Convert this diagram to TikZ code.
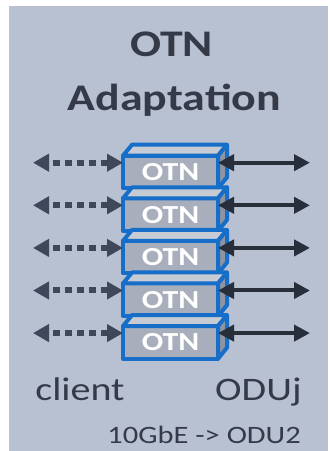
\documentclass[tikz,border=0pt]{standalone}
\usepackage{fontspec}
\setmainfont{Carlito}[FakeStretch=1.22]
\usetikzlibrary{arrows.meta, positioning}

\definecolor{panel}{RGB}{184,193,210}
\definecolor{otnblue}{RGB}{22,110,200}
\definecolor{otnfront}{RGB}{168,174,187}
\definecolor{otntop}{RGB}{198,203,212}
\definecolor{otnside}{RGB}{142,148,160}
\definecolor{inkdark}{RGB}{52,58,72}
\definecolor{clientline}{RGB}{62,72,90}
\definecolor{odujline}{RGB}{40,46,58}

\begin{document}
\begin{tikzpicture}[
  x=0.5pt, y=0.5pt,
  otn/.style={rectangle, draw=otnblue, fill=otnfront, line width=2pt, line join=round,
              minimum width=47.5pt, minimum height=16.3pt, inner sep=0pt, outer sep=0pt,
              text=white, font=\fontsize{13}{15}\selectfont\bfseries},
  face/.style={draw=otnblue, line width=2pt, line join=round},
  clientarr/.style={{Triangle[length=8pt,width=8.5pt]}-{Triangle[length=8pt,width=8.5pt]},
                    line width=3pt, clientline, dash pattern=on 3.4pt off 2.6pt, dash phase=3.4pt},
  odujarr/.style={{Triangle[length=8pt,width=8pt]}-{Triangle[length=8pt,width=8pt]},
                  line width=2pt, odujline},
  title/.style={inkdark, inner sep=0pt, font=\fontsize{18.8}{23}\selectfont\bfseries},
  lbl/.style={inkdark, inner sep=0pt, font=\fontsize{16.4}{20}\selectfont},
]
  \useasboundingbox (0,0) rectangle (329,451);
  \fill[panel] (9,0) rectangle (328,445);

  \node[title, anchor=base] (ttl) at (171.5,394) {OTN};
  \node[title, anchor=base] (adapt) at (174.5,340) {Adaptation};

  % stacked OTN blocks, top to bottom
  \node[otn] (o1) at (170.5,279) {OTN};
  \draw[face, fill=otntop] (o1.north west) -- ++(9,11) -- ++(95,0) -- (o1.north east) -- cycle;
  \draw[face, fill=otnside] (o1.north east) -- ++(9,11) -- ++(0,-32.6) -- (o1.south east) -- cycle;

  \node[otn] (o2) at (170.5,236.4) {OTN};
  \draw[face, fill=otntop] (o2.north west) -- ++(9,11) -- ++(95,0) -- (o2.north east) -- cycle;
  \draw[face, fill=otnside] (o2.north east) -- ++(9,11) -- ++(0,-32.6) -- (o2.south east) -- cycle;

  \node[otn] (o3) at (170.5,193.8) {OTN};
  \draw[face, fill=otntop] (o3.north west) -- ++(9,11) -- ++(95,0) -- (o3.north east) -- cycle;
  \draw[face, fill=otnside] (o3.north east) -- ++(9,11) -- ++(0,-32.6) -- (o3.south east) -- cycle;

  \node[otn] (o4) at (170.5,151.2) {OTN};
  \draw[face, fill=otntop] (o4.north west) -- ++(9,11) -- ++(95,0) -- (o4.north east) -- cycle;
  \draw[face, fill=otnside] (o4.north east) -- ++(9,11) -- ++(0,-32.6) -- (o4.south east) -- cycle;

  \node[otn] (o5) at (170.5,108.6) {OTN};
  \draw[face, fill=otntop] (o5.north west) -- ++(9,11) -- ++(95,0) -- (o5.north east) -- cycle;
  \draw[face, fill=otnside] (o5.north east) -- ++(9,11) -- ++(0,-32.6) -- (o5.south east) -- cycle;

  % client side (dotted) and ODUj side (solid)
  \coordinate (cl1) at (33,288.3);  \coordinate (od1) at (310,288.3);
  \coordinate (cl2) at (33,245.7);  \coordinate (od2) at (310,245.7);
  \coordinate (cl3) at (33,203.1);  \coordinate (od3) at (310,203.1);
  \coordinate (cl4) at (33,160.5);  \coordinate (od4) at (310,160.5);
  \coordinate (cl5) at (33,117.9);  \coordinate (od5) at (310,117.9);

  \draw[clientarr] (cl1) -- (o1.west |- cl1);
  \draw[clientarr] (cl2) -- (o2.west |- cl2);
  \draw[clientarr] (cl3) -- (o3.west |- cl3);
  \draw[clientarr] (cl4) -- (o4.west |- cl4);
  \draw[clientarr] (cl5) -- (o5.west |- cl5);

  \draw[odujarr] (o1.east |- od1) -- (od1);
  \draw[odujarr] (o2.east |- od2) -- (od2);
  \draw[odujarr] (o3.east |- od3) -- (od3);
  \draw[odujarr] (o4.east |- od4) -- (od4);
  \draw[odujarr] (o5.east |- od5) -- (od5);

  \node[lbl, anchor=base west] (client) at (35,51) {client};
  \node[lbl, anchor=base east] (oduj) at (302,51) {ODUj};
  \node[lbl, anchor=base west, font=\fontsize{12.5}{15}\selectfont] (rate) at (107,8) {10GbE -> ODU2};
\end{tikzpicture}
\end{document}
